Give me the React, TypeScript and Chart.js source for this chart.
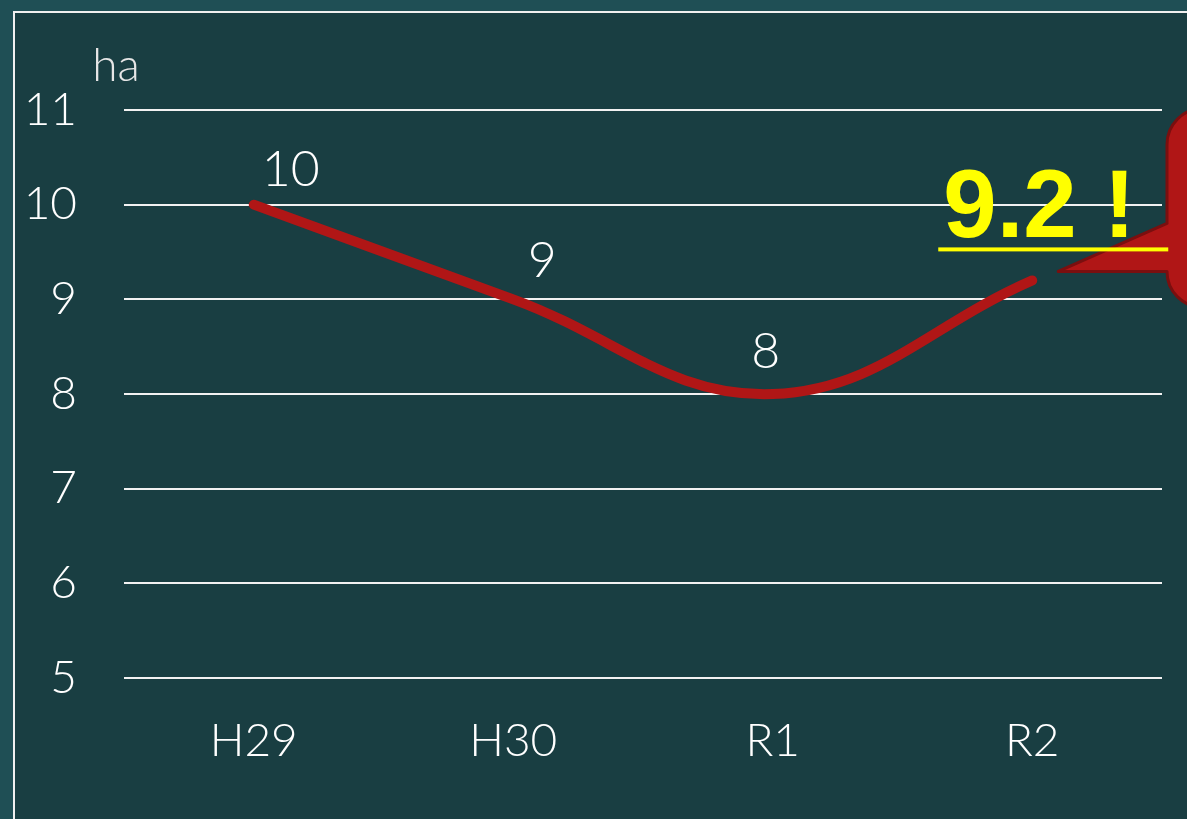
import React, { useEffect, useRef } from "react";
import { Chart, registerables } from "chart.js";

Chart.register(...registerables);

const categories = ["H29", "H30", "R1", "R2"];
const values = [10, 9, 8, 9.2];
const pointLabels = ["10", "9", "8", ""];
const yMin = 5;
const yMax = 11;
const unitLabel = "ha";
const calloutText = "9.2 !";

const W = 1187;
const H = 819;
const FONT = "Lato, 'Liberation Sans', sans-serif";
const LINE_RED = "#b01616";

export default function App() {
  const ref = useRef<HTMLCanvasElement>(null);

  useEffect(() => {
    document.body.style.margin = "0";
    const canvas = ref.current!;
    const labelOffsets = [
      [37, -35],
      [29, -38],
      [-7, -42],
      [0, 0],
    ];
    const overlay = {
      id: "overlay",
      afterDraw(chart: any) {
        const ctx = chart.ctx as CanvasRenderingContext2D;
        const area = chart.chartArea;
        const meta = chart.getDatasetMeta(0);
        ctx.save();
        // unit label
        ctx.fillStyle = "#e6e6e6";
        ctx.font = `300 46px ${FONT}`;
        ctx.textAlign = "center";
        ctx.textBaseline = "alphabetic";
        ctx.fillText(unitLabel, area.left - 8, area.top - 29);

        // point labels
        ctx.fillStyle = "#ffffff";
        ctx.font = `300 50px ${FONT}`;
        ctx.textBaseline = "middle";
        meta.data.forEach((pt: any, i: number) => {
          const t = pointLabels[i];
          if (!t) return;
          const [dx, dy] = labelOffsets[i];
          ctx.fillText(t, pt.x + dx, pt.y + dy);
        });

        // callout for last point
        const last = meta.data[meta.data.length - 1];
        const px = last.x;
        const py = last.y;
        const rectLeft = area.right + 5;
        const rectTop = py - 172;
        const rectBottom = py + 27;
        const r = 36;
        ctx.beginPath();
        ctx.moveTo(rectLeft, rectTop + r);
        ctx.arcTo(rectLeft, rectTop, rectLeft + r, rectTop, r);
        ctx.lineTo(W + 60, rectTop);
        ctx.lineTo(W + 60, rectBottom);
        ctx.lineTo(rectLeft + r, rectBottom);
        ctx.arcTo(rectLeft, rectBottom, rectLeft, rectBottom - r, r);
        ctx.lineTo(px + 26, py - 9);
        ctx.lineTo(rectLeft, py - 57);
        ctx.closePath();
        ctx.fillStyle = LINE_RED;
        ctx.fill();
        ctx.lineWidth = 3;
        ctx.strokeStyle = "#7a0f0f";
        ctx.lineJoin = "round";
        ctx.stroke();

        // callout text
        ctx.fillStyle = "#ffff00";
        ctx.font = `bold 96px 'Liberation Sans', Arial, sans-serif`;
        ctx.textAlign = "left";
        ctx.textBaseline = "alphabetic";
        ctx.fillText(calloutText, px - 89, py - 43);
        ctx.fillRect(px - 94, py - 33, 230, 4);
        ctx.restore();
      },
    };

    const chart = new Chart(canvas, {
      type: "line",
      data: {
        labels: categories,
        datasets: [
          {
            data: values,
            borderColor: LINE_RED,
            borderWidth: 10,
            borderCapStyle: "round",
            borderJoinStyle: "round",
            tension: 0.4,
            pointRadius: 0,
            pointHoverRadius: 0,
            fill: false,
          },
        ],
      },
      options: {
        animation: false,
        responsive: false,
        devicePixelRatio: 1,
        layout: { padding: { top: 110, right: 25, left: 0, bottom: 0 } },
        plugins: {
          legend: { display: false },
          tooltip: { enabled: false },
        },
        scales: {
          x: {
            offset: true,
            grid: { display: false, drawTicks: false },
            border: { display: false },
            ticks: {
              color: "#ffffff",
              font: { family: FONT, size: 46, weight: "300" },
              padding: 36,
            },
            afterFit: (s: any) => {
              s.height = 141;
            },
          },
          y: {
            min: yMin,
            max: yMax,
            grid: { color: "#f2f2f2", lineWidth: 2, drawTicks: false },
            border: { display: false },
            ticks: {
              stepSize: 1,
              color: "#ffffff",
              font: { family: FONT, size: 46, weight: "300" },
              padding: 47,
            },
            afterFit: (s: any) => {
              s.width = 124;
            },
          },
        },
      },
      plugins: [overlay],
    });
    return () => chart.destroy();
  }, []);

  return (
    <div
      style={{
        position: "fixed",
        left: 0,
        top: 0,
        width: W,
        height: H,
        background: "#1f4f55",
        overflow: "hidden",
      }}
    >
      <div
        style={{
          position: "absolute",
          left: 13,
          top: 11,
          width: 1300,
          height: 1000,
          border: "2px solid #f0f0f0",
          background: "#193e42",
        }}
      />
      <canvas
        ref={ref}
        width={W}
        height={H}
        style={{ position: "absolute", left: 0, top: 0, width: W, height: H }}
      />
    </div>
  );
}
